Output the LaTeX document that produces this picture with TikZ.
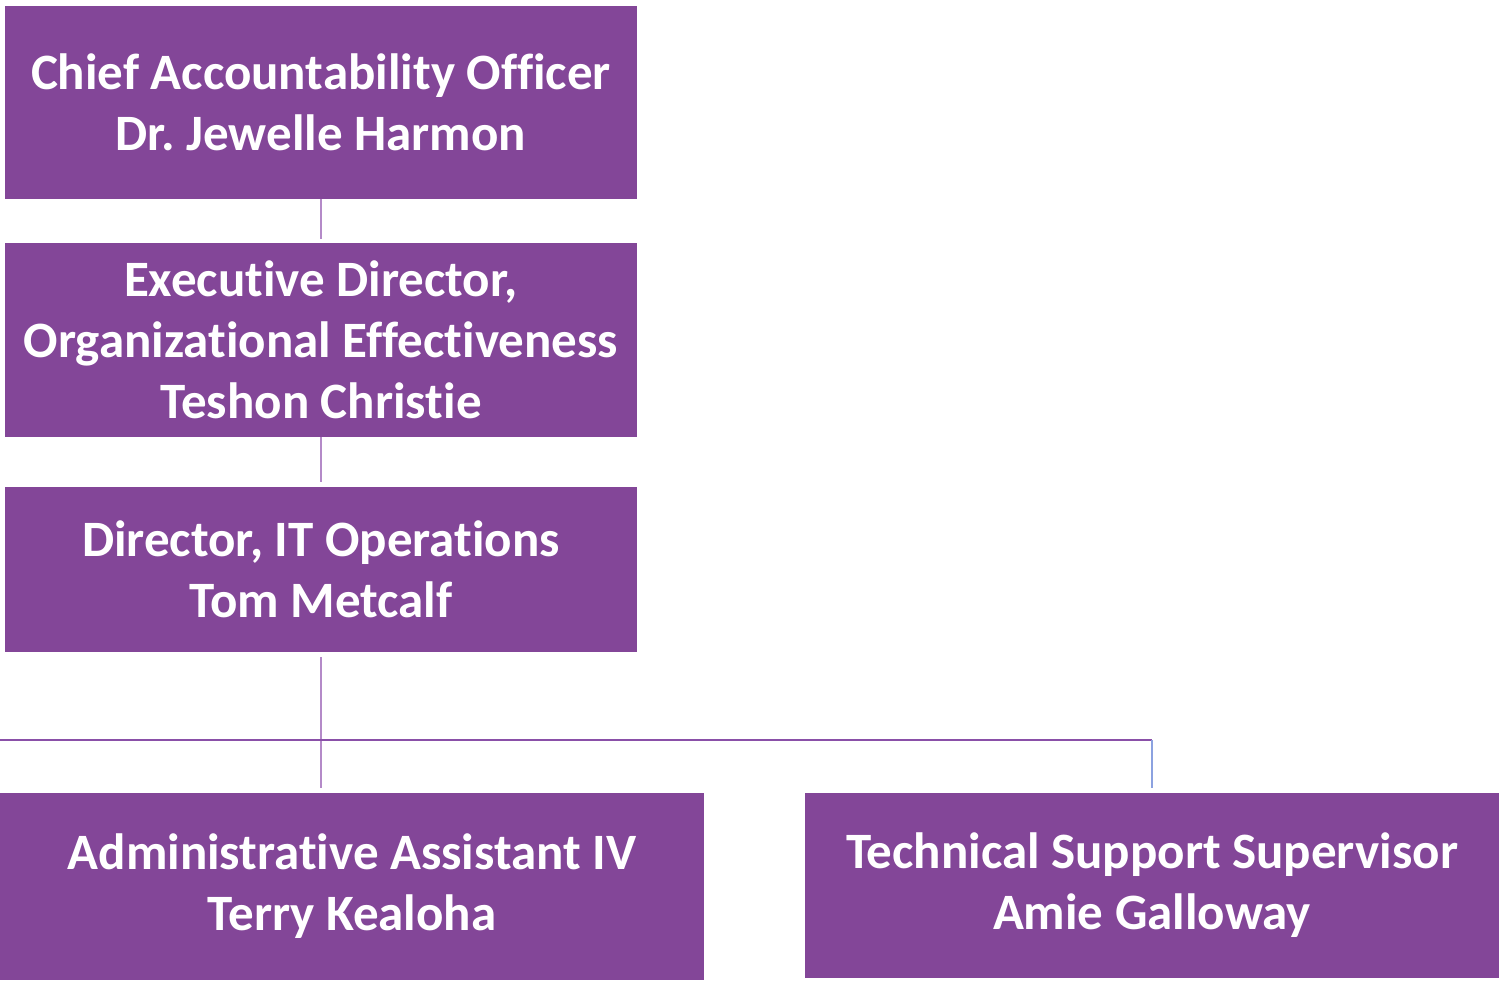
\documentclass[tikz,border=0pt]{standalone}
\usepackage{fontspec}
\setmainfont{Carlito}[Ligatures={NoCommon}]
\frenchspacing
\definecolor{boxpurple}{HTML}{834698}
\definecolor{linelight}{HTML}{B48AC8}
\definecolor{linemid}{HTML}{8A50A8}
\definecolor{lineblue}{HTML}{8CA2E0}
\begin{document}
\begin{tikzpicture}[x=1pt,y=-1pt,
  orgbox/.style={rectangle, fill=boxpurple, draw=none, text=white, align=center,
    inner sep=0pt, font=\fontsize{51}{61}\selectfont\bfseries},
  conn/.style={line width=2pt, draw=linelight}]
\useasboundingbox (0,0) rectangle (1511,980);
\node[orgbox, minimum width=632, minimum height=193] (b1) at (321,102.5)
  {Chief Accountability Officer\\Dr. Jewelle Harmon};
\node[orgbox, minimum width=632, minimum height=194] (b2) at (321,340)
  {Executive Director,\\Organizational Effectiveness\\Teshon Christie};
\node[orgbox, minimum width=632, minimum height=165] (b3) at (321,569.5)
  {Director, IT Operations\\Tom Metcalf};
\node[orgbox, minimum width=704, minimum height=187] (b4) at (352,886.5)
  {Administrative Assistant IV\\Terry Kealoha};
\node[orgbox, minimum width=694, minimum height=185] (b5) at (1152,885.5)
  {Technical Support Supervisor\\Amie Galloway};
\coordinate (hub) at (320,740);
\coordinate (left) at (0,740);
\draw[conn, shorten >=4] (b1.south) -- (b2.north);
\draw[conn, shorten >=5] (b2.south) -- (b3.north);
\draw[conn, shorten <=5, shorten >=5] (b3.south) -- (hub -| b3.south) -- (b3.south |- b4.north);
\draw[line width=2pt, draw=linemid] (left) -- (hub -| b5.north);
\draw[line width=2pt, draw=lineblue, shorten >=5] (hub -| b5.north) -- (b5.north);
\end{tikzpicture}
\end{document}
